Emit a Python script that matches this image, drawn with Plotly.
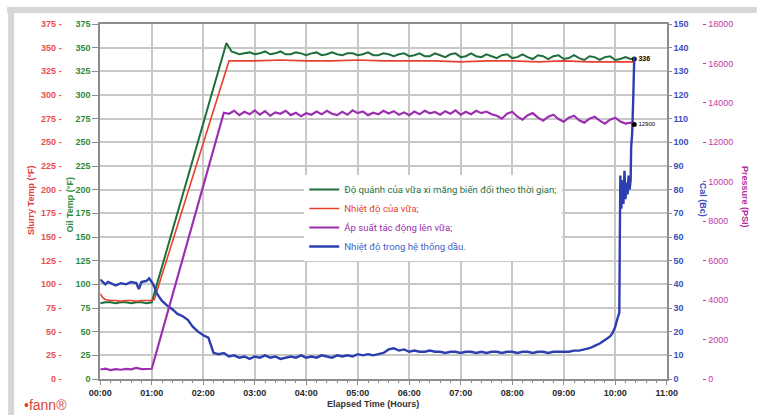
import numpy as np
import plotly.graph_objects as go

# ---------------- data ----------------
x_tick_vals = list(range(12))
x_tick_text = ["00:00", "01:00", "02:00", "03:00", "04:00", "05:00",
               "06:00", "07:00", "08:00", "09:00", "10:00", "11:00"]

series_names = [
    "Độ quánh của vữa xi măng biến đổi theo thời gian;",
    "Nhiệt độ của vữa;",
    "Áp suất tác động lên vữa;",
    "Nhiệt độ trong hệ thống dầu.",
]

# green trace (left scale, 0-375)
green_t_start = [0.0, 0.1, 0.2, 0.3, 0.4, 0.5, 0.6, 0.7, 0.8, 0.9, 1.0, 2.45, 2.55]
green_v_start = [80, 81, 81, 80, 81, 81, 80, 81, 81, 80, 81, 355, 346]
green_t_plateau = list(np.round(np.arange(2.6, 10.31, 0.1), 2)) + [10.37]
green_v_plateau = [345, 343, 344, 345, 343, 344, 346, 343, 344, 346,
                   343, 343, 345, 344, 342, 344, 345, 342, 343, 345,
                   343, 342, 344, 344, 342, 343, 345, 342, 342, 344,
                   343, 341, 343, 344, 341, 342, 344, 341, 341, 344,
                   342, 340, 343, 344, 340, 341, 344, 341, 340, 343,
                   341, 339, 342, 343, 339, 340, 343, 340, 338, 342,
                   341, 338, 341, 342, 338, 339, 342, 339, 337, 341,
                   340, 337, 340, 341, 337, 338, 340, 338, 338]

# red trace (slurry temperature, °F)
red_t = [0.0, 0.05, 0.1, 0.2, 0.3, 0.4, 0.5, 0.6, 0.7, 0.8, 0.9, 1.0, 1.05,
         2.5, 3.0, 3.5, 4.0, 4.5, 5.0, 5.5, 6.0, 6.5, 7.0, 7.5, 8.0, 8.5,
         9.0, 9.5, 10.0, 10.37]
red_v = [90, 86, 84, 83, 83, 82, 83, 83, 82, 83, 83, 83, 84,
         336, 336, 337, 336, 336, 337, 336, 336, 336, 335, 336, 336, 335,
         336, 335, 335, 335]

# purple trace (pressure, psi)
purple_t_start = [0.0, 0.1, 0.2, 0.3, 0.4, 0.5, 0.6, 0.7, 0.8, 0.9, 1.0, 2.4]
purple_v_start = [480, 520, 450, 500, 470, 510, 490, 560, 500, 510, 520, 13500]
purple_t_plateau = list(np.round(np.arange(2.5, 10.31, 0.1), 2)) + [10.37]
purple_v_plateau = [13450, 13600, 13380, 13550, 13420, 13620, 13400, 13580, 13350, 13520,
                    13450, 13600, 13380, 13500, 13320, 13480, 13400, 13560, 13420, 13600,
                    13450, 13380, 13550, 13400, 13620, 13480, 13560, 13380, 13500, 13420,
                    13600, 13460, 13580, 13400, 13520, 13380, 13560, 13420, 13600, 13470,
                    13540, 13400, 13580, 13450, 13620, 13400, 13550, 13430, 13600, 13480,
                    13560, 13420, 13350, 13200, 13450, 13550, 13300, 13150, 13380, 13480,
                    13250, 13100, 13300, 13400, 13180, 13050, 13250, 13350, 13120, 13000,
                    13200, 13300, 13100, 12950, 13150, 13250, 13050, 12950, 13000, 12900]

# blue trace (right scale 0-150)
blue_t_start = [0.0, 0.05, 0.1, 0.15, 0.2, 0.3, 0.4, 0.5, 0.6, 0.7, 0.75, 0.8, 0.9, 0.95,
                1.0, 1.05, 1.1, 1.15, 1.2, 1.3, 1.4, 1.5, 1.6, 1.7, 1.8, 1.9, 2.0, 2.1,
                2.15, 2.2]
blue_v_start = [42, 41, 40, 41, 40.5, 39.5, 40.5, 40, 41, 40.5, 38, 41, 41.5, 42.5,
                41, 39, 36, 34.5, 33, 31, 29.5, 27.5, 26.5, 25, 22, 20, 18.5, 17.5,
                14, 11]
blue_t_mid = list(np.round(np.arange(2.3, 9.31, 0.1), 2))
blue_v_mid = [10.5, 11, 9.5, 10, 9, 9.5, 8.5, 9.5, 9, 10,
              9, 9.5, 8.5, 9, 9.5, 9, 10, 9, 9.5, 9,
              10, 9.5, 9, 10, 9.5, 10, 9.5, 10.5, 10, 10.5,
              10, 10.5, 11, 12.5, 13, 12, 12.5, 11.5, 12, 11.5,
              11.5, 12, 11.5, 11.5, 11, 11.5, 11.5, 11, 11.5, 11.5,
              11, 11.5, 11, 11.5, 11.5, 11, 11.5, 11.5, 11, 11.5,
              11.5, 11, 11.5, 11.5, 11, 11.5, 11.5, 11.5, 11.5, 12,
              12]
blue_t_end = [9.4, 9.5, 9.6, 9.7, 9.8, 9.9, 9.95, 10.0, 10.05, 10.08, 10.09, 10.1, 10.12,
              10.14, 10.16, 10.18, 10.2, 10.22, 10.24, 10.26, 10.28, 10.3, 10.31, 10.33,
              10.35, 10.37]
blue_v_end = [12.5, 13, 14, 15, 16.5, 18, 19.5, 22, 26, 28, 60, 86, 72,
              84, 74, 88, 76, 83, 78, 86, 80, 84, 98, 104,
              118, 136]

end_labels = ["336", "12900"]

# ---------------- style ----------------
C_GREEN = "#1f6f3b"
C_RED = "#e8402e"
C_PURPLE = "#9c2fb0"
C_BLUE = "#2c3eb0"
GRID = "#c8c8c8"
AXL = "#8c8c8c"

def legend_name(text, color):
    return f'<span style="color:{color}">{text}</span>'

fig = go.Figure()
fig.add_trace(go.Scatter(x=green_t_start + green_t_plateau, y=green_v_start + green_v_plateau,
                         mode="lines", line=dict(color=C_GREEN, width=2),
                         name=legend_name(series_names[0], C_GREEN), yaxis="y"))
fig.add_trace(go.Scatter(x=red_t, y=red_v, mode="lines", line=dict(color=C_RED, width=1.6),
                         name=legend_name(series_names[1], C_RED), yaxis="y2"))
fig.add_trace(go.Scatter(x=purple_t_start + purple_t_plateau, y=purple_v_start + purple_v_plateau,
                         mode="lines", line=dict(color=C_PURPLE, width=2.2),
                         name=legend_name(series_names[2], C_PURPLE), yaxis="y4"))
fig.add_trace(go.Scatter(x=blue_t_start + blue_t_mid + blue_t_end,
                         y=blue_v_start + blue_v_mid + blue_v_end,
                         mode="lines", line=dict(color=C_BLUE, width=2.4),
                         name=legend_name(series_names[3], "#3f5fc8"), yaxis="y3"))
# end markers
fig.add_trace(go.Scatter(x=[green_t_plateau[-1]], y=[green_v_plateau[-1]], mode="markers+text",
                         marker=dict(color="black", size=5), text=[end_labels[0]],
                         textposition="middle right",
                         textfont=dict(size=7, color="black", family="Liberation Sans", weight="bold"),
                         showlegend=False, yaxis="y", cliponaxis=False))
fig.add_trace(go.Scatter(x=[purple_t_plateau[-1]], y=[purple_v_plateau[-1]], mode="markers+text",
                         marker=dict(color="black", size=5), text=[end_labels[1]],
                         textposition="middle right",
                         textfont=dict(size=6, color="black", family="Liberation Sans"),
                         showlegend=False, yaxis="y4", cliponaxis=False))

ML, MR, MT, MB = 20, 20, 24, 36
W, H = 760, 415
PW = W - ML - MR
PH = H - MT - MB
def px_x(p):
    return (p - ML) / PW
def px_y(p):
    return (H - MB - p) / PH

tickfont = dict(family="Liberation Sans", size=9, weight="bold")

fig.update_layout(
    width=W, height=H,
    margin=dict(l=ML, r=MR, t=MT, b=MB),
    paper_bgcolor="white", plot_bgcolor="white",
    showlegend=True,
    legend=dict(x=px_x(303), y=px_y(175), xanchor="left", yanchor="top",
                bgcolor="white", borderwidth=0, tracegroupgap=0,
                font=dict(family="Roboto", size=9.6),
                itemwidth=30),
    xaxis=dict(domain=[px_x(97), px_x(669)], range=[0, 11],
               tickvals=x_tick_vals, ticktext=x_tick_text,
               tickfont=dict(tickfont, color="#2a2a2a"),
               showgrid=True, gridcolor=GRID, gridwidth=1.5,
               showline=True, linecolor=AXL, linewidth=2, mirror=True,
               ticks="outside", ticklen=4, tickcolor=AXL,
               minor=dict(dtick=0.2, ticks="outside", ticklen=2, tickcolor=AXL, showgrid=False),
               zeroline=False),
    yaxis=dict(range=[0, 375], dtick=25, anchor="x",
               tickfont=dict(tickfont, color="#2e8b3e"),
               showgrid=True, gridcolor=GRID, gridwidth=1.5,
               showline=True, linecolor=AXL, linewidth=2, mirror=True,
               ticks="outside", ticklen=6, tickcolor=AXL, zeroline=False),
    yaxis2=dict(range=[0, 375], dtick=25, overlaying="y", anchor="free",
                position=px_x(58), side="left",
                tickfont=dict(tickfont, color="#ea5050"), ticksuffix=" -",
                showgrid=False, showline=False, ticks="", zeroline=False),
    yaxis3=dict(range=[0, 150], dtick=10, overlaying="y", anchor="x", side="right",
                tickfont=dict(tickfont, color="#3a4fc0"),
                showgrid=False, showline=False, ticks="outside", ticklen=4,
                tickcolor=AXL, zeroline=False),
    yaxis4=dict(range=[0, 18000], dtick=2000, overlaying="y", anchor="free",
                position=px_x(705), side="right", tickformat="d",
                tickfont=dict(family="Liberation Sans", size=9, color="#c03aa8"),
                showgrid=False, showline=False, ticks="outside", ticklen=3,
                tickcolor="#c03aa8", zeroline=False),
)

# outer frame
fig.add_shape(type="line", xref="paper", yref="paper", x0=px_x(3), x1=px_x(760),
              y0=px_y(10), y1=px_y(10), line=dict(color="#d6d6d6", width=6), layer="below")
fig.add_shape(type="line", xref="paper", yref="paper", x0=px_x(7), x1=px_x(7),
              y0=px_y(7), y1=px_y(420), line=dict(color="#d6d6d6", width=6), layer="below")

def ann(text, x, y, color, size, angle=0, bold=True, family="Liberation Sans"):
    fig.add_annotation(text=text, xref="paper", yref="paper", x=px_x(x), y=px_y(y),
                       showarrow=False, textangle=angle, xanchor="center", yanchor="middle",
                       font=dict(family=family, size=size, color=color,
                                 weight="bold" if bold else "normal"))

ann("Slurry Temp (°F)", 27, 200, "#e04040", 9, angle=-90)
ann("Oil Temp (°F)", 66, 205, "#2e8b3e", 9, angle=-90)
ann("Cal (Bc)", 706, 200, "#3a4fc0", 9, angle=90)
ann("Pressure (PSI)", 748, 197, "#b0309e", 9, angle=90)
ann("Elapsed Time (Hours)", 372, 404, "#333333", 9)
ann("•fann®", 42, 405, "#d8443a", 14, bold=False)

fig.write_html("out.html")
